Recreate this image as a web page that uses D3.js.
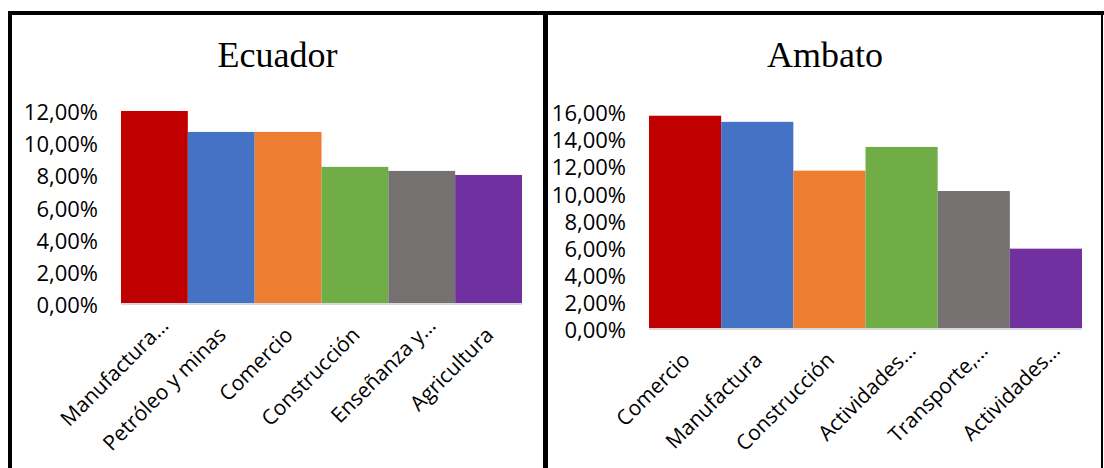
<!DOCTYPE html>
<html><head><meta charset="utf-8">
<script src="https://cdn.jsdelivr.net/npm/d3@7"></script>
<style>
html,body{margin:0;padding:0;background:#fff;}
svg{display:block;}
</style></head>
<body>
<script>
// ---- Data ----
const ecuadorCategories = ["Manufactura…", "Petróleo y minas", "Comercio", "Construcción", "Enseñanza y…", "Agricultura"];
const ecuadorValues = [11.92, 10.62, 10.62, 8.45, 8.2, 7.95];
const ecuadorTicks = [0, 2, 4, 6, 8, 10, 12];

const ambatoCategories = ["Comercio", "Manufactura", "Construcción", "Actividades…", "Transporte,…", "Actividades…"];
const ambatoValues = [15.65, 15.2, 11.6, 13.35, 10.1, 5.85];
const ambatoTicks = [0, 2, 4, 6, 8, 10, 12, 14, 16];

const barColors = ["#C00000", "#4472C4", "#ED7D31", "#70AD47", "#767171", "#7030A0"];

// ---- Drawing ----
const W = 1104, H = 468;
const svg = d3.select("body").append("svg").attr("width", W).attr("height", H);
const fmt = v => v.toFixed(2).replace(".", ",") + "%";

function drawChart(cfg) {
  const g = svg.append("g");
  const x = d3.scaleBand().domain(d3.range(cfg.values.length)).range([cfg.x0, cfg.x1]).padding(0);
  const y = d3.scaleLinear().domain([0, cfg.max]).range([cfg.y0, cfg.yTop]);

  g.append("text")
    .attr("x", cfg.titleX).attr("y", 67)
    .attr("text-anchor", "middle")
    .attr("font-family", "'Liberation Serif', 'Times New Roman', serif")
    .attr("font-size", 36).attr("fill", "#000")
    .text(cfg.title);

  g.selectAll("rect.bar").data(cfg.values).join("rect")
    .attr("class", "bar")
    .attr("x", (d, i) => x(i))
    .attr("width", x.bandwidth())
    .attr("y", d => y(d))
    .attr("height", d => y(0) - y(d))
    .attr("fill", (d, i) => barColors[i]);

  // baseline
  g.append("line")
    .attr("x1", cfg.x0).attr("x2", cfg.x1)
    .attr("y1", y(0) + 1).attr("y2", y(0) + 1)
    .attr("stroke", "#d9d9d9").attr("stroke-width", 2);

  // y axis labels
  const yAxis = d3.axisLeft(y).tickValues(cfg.ticks).tickFormat(fmt).tickSize(0).tickPadding(0);
  const ya = g.append("g").attr("transform", `translate(${cfg.labelRight},0)`).call(yAxis);
  ya.select(".domain").remove();
  ya.selectAll("text")
    .attr("font-family", "'Open Sans', sans-serif")
    .attr("font-size", 22).attr("fill", "#000")
    .attr("y", 2).attr("dy", "0.35em");

  // x labels
  g.selectAll("text.cat").data(cfg.categories).join("text")
    .attr("class", "cat")
    .attr("transform", (d, i) => `translate(${x(i) + x.bandwidth() / 2 + 1},${y(0) + 28}) rotate(-45)`)
    .attr("text-anchor", "end")
    .attr("dx", d => d.endsWith("…") ? 13 : 0)
    .attr("dy", "0.35em")
    .attr("font-family", "'Open Sans', sans-serif")
    .attr("font-size", 21).attr("fill", "#000")
    .text(d => d);
}

drawChart({
  title: "Ecuador", titleX: 277.5,
  categories: ecuadorCategories, values: ecuadorValues, ticks: ecuadorTicks,
  max: 12, x0: 121, x1: 522, y0: 303, yTop: 109.7, labelRight: 98
});
drawChart({
  title: "Ambato", titleX: 825,
  categories: ambatoCategories, values: ambatoValues, ticks: ambatoTicks,
  max: 16, x0: 649, x1: 1082, y0: 328, yTop: 111, labelRight: 626
});

// frame borders
svg.append("rect").attr("x", 8).attr("y", 11).attr("width", W - 8).attr("height", 4).attr("fill", "#000");
svg.append("rect").attr("x", 8).attr("y", 11).attr("width", 4).attr("height", H - 11).attr("fill", "#000");
svg.append("rect").attr("x", 543).attr("y", 11).attr("width", 5).attr("height", H - 11).attr("fill", "#000");
svg.append("rect").attr("x", 1101).attr("y", 11).attr("width", 2).attr("height", H - 11).attr("fill", "#000");
</script>
</body></html>
